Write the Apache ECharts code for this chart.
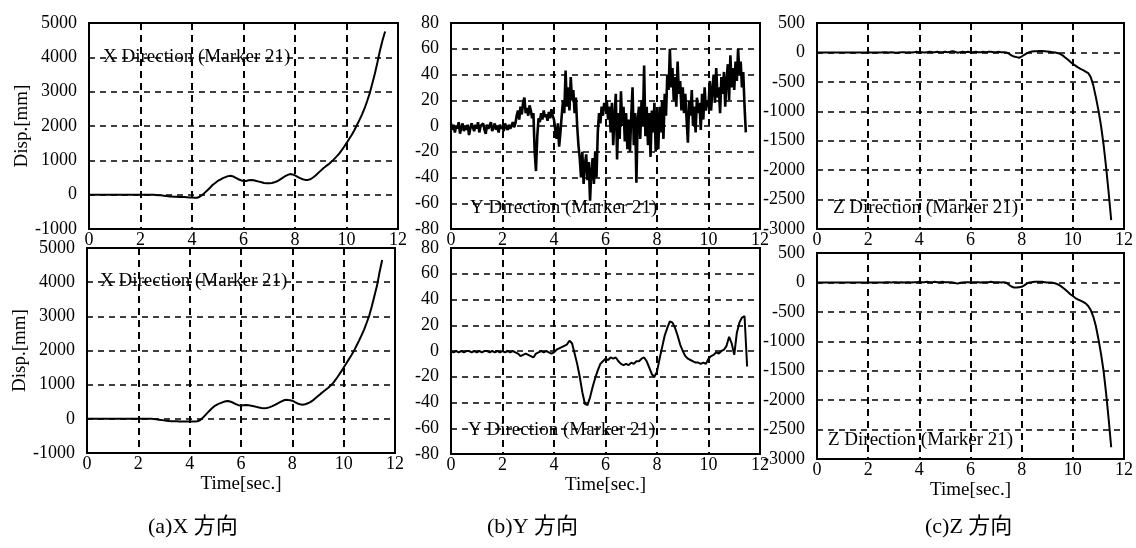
<!DOCTYPE html>
<html><head><meta charset="utf-8">
<script src="https://cdn.jsdelivr.net/npm/echarts@6/dist/echarts.min.js"></script>
<style>html,body{margin:0;padding:0;background:#fff}#c{width:1136px;height:548px}</style>
</head><body><div id="c"></div>
<script>
// ---- data ----
const stepSmooth = 0.1;   // t = 0.0 .. 11.5
const stepNoisy = 0.05;   // t = 0.00 .. 11.45

const xTopValues = [
  0,0,0,0,0,0,0,0,0,0, 0,0,0,0,0,0,0,0,0,0, 0,0,0,0,0,0,
  -10,-15,-20,-30,-40,-50,-55,-60,-60,-65,
  -70,-70,-75,-80,-85,-90,-90,-60,-10,60,
  130,200,280,340,400,440,480,510,540,550,
  530,490,450,420,400,400,420,430,420,400,
  380,360,340,330,330,340,360,390,430,480,
  530,570,600,590,560,520,480,450,430,430,
  450,500,560,630,700,770,830,880,950,1020,
  1100,1180,1280,1390,1500,1620,1740,1870,2020,2170,
  2330,2510,2720,2950,3230,3520,3850,4200,4500,4750
];
const xBottomValues = [
  0,0,0,0,0,0,0,0,0,0, 0,0,0,0,0,0,0,0,0,0, 0,0,0,0,0,0,
  -5,-15,-25,-35,-45,-55,-65,-70,-70,-72,
  -75,-75,-77,-78,-78,-78,-78,-70,-40,20,
  100,180,260,330,390,430,460,490,515,520,
  500,470,430,400,390,400,405,400,385,370,
  350,330,315,310,315,335,365,400,440,480,
  520,550,555,545,530,490,450,425,415,425,
  455,490,540,600,665,730,790,850,910,980,
  1060,1160,1270,1380,1500,1620,1740,1860,1990,2140,
  2290,2450,2620,2820,3030,3300,3600,3900,4300,4650
];
const yTopValues = [
  2,-3,1,-5,0,-2,3,-6,-1,2,-4,0,-3,1,-7,-2,2,-1,-4,1,
  -2,3,-5,0,-1,2,-3,-6,1,-2,0,3,-4,-1,2,-3,0,-5,1,-2,
  0,-4,2,-1,-3,1,-2,0,3,-1,2,8,12,5,15,9,18,22,10,14,
  8,16,12,6,10,-20,-35,-8,6,3,10,5,12,7,9,4,11,6,13,8,
  5,-3,-10,2,-16,-5,8,20,10,43,15,30,12,38,20,28,10,22,0,-15,
  -25,-40,-20,-45,-30,-22,-42,-28,-58,-35,-25,-45,-20,-40,-5,10,2,15,8,18,
  12,20,5,15,-5,18,-15,8,25,-26,10,-10,27,0,15,-12,10,-18,5,-20,
  8,30,-15,10,-44,5,15,-10,20,0,47,-8,15,-15,10,-24,12,-5,18,-20,
  10,-18,15,-5,20,-10,25,8,40,28,60,30,45,20,38,15,50,25,35,12,
  30,10,25,5,-13,20,8,28,0,15,-5,22,10,18,-3,25,5,30,12,20,
  15,35,12,28,40,18,45,22,30,10,38,25,42,15,35,48,20,55,30,45,
  28,50,35,60,40,50,30,42,15,-5
];
const yBottomValues = [
  0,-1,0,-1,0,-1,0,0,-1,0,
  -1,0,-1,0,0,-1,0,-1,0,-1,
  0,-1,0,-1,0,-1,
  -2,-4,-3,-2,-3,-4,-5,-2,-1,0,
  -1,0,-1,-2,-1,1,2,3,4,5,
  8,6,-2,-10,-20,-32,-41,-42,-36,-28,
  -21,-15,-10,-8,-6,-7,-5,-6,-5,-8,
  -10,-11,-10,-11,-9,-10,-8,-8,-6,-5,
  -8,-13,-18,-20,-16,-6,3,12,18,23,
  22,18,12,5,0,-4,-6,-7,-8,-9,
  -9,-10,-9,-10,-6,-4,-3,-1,-2,0,
  1,4,11,6,-3,14,22,26,27,-12
];
const zTopValues = [
  0,0,0,0,0,0,0,0,0,0, 0,0,0,0,0,0,0,0,0,0, 0,0,0,0,0,0,
  5,5,0,5,0,-5,0,5,5,0,
  5,0,5,10,5,5,0,5,10,5,
  5,10,5,5,10,5,10,20,10,-5,
  5,10,5,10,5,5,10,5,5,10,
  5,10,10,5,5,10,5,5,0,-20,
  -50,-70,-80,-90,-70,-40,-15,5,15,20,
  20,25,25,20,15,10,5,0,-10,-25,
  -50,-85,-120,-160,-195,-225,-255,-280,-300,-325,
  -350,-420,-560,-760,-980,-1240,-1560,-1950,-2380,-2850
];
const zBottomValues = [
  0,0,0,0,0,0,0,0,0,0, 0,0,0,0,0,0,0,0,0,0, 0,0,0,0,0,0,
  0,5,5,0,5,5,0,5,0,5,
  5,0,5,5,10,5,5,10,5,5,
  10,5,5,10,5,5,5,0,-10,-20,
  -5,0,5,5,0,5,5,5,0,5,
  5,5,10,5,5,5,0,5,-5,-40,
  -70,-85,-85,-80,-75,-50,-20,0,5,10,
  10,10,10,5,0,0,-5,-15,-30,-55,
  -85,-120,-160,-200,-230,-265,-290,-310,-330,-355,
  -400,-470,-580,-740,-960,-1210,-1500,-1880,-2320,-2800
];

// axis ranges [min, max, interval]
const timeRange = [0, 12, 2];
const xDispRange = [-1000, 5000, 1000];
const yDispRange = [-80, 80, 20];
const zDispRange = [-3000, 500, 500];

const panelTitles = ['X Direction (Marker 21)', 'Y Direction (Marker 21)', 'Z Direction (Marker 21)'];
const captions = ['(a)X 方向', '(b)Y 方向', '(c)Z 方向'];
const yAxisName = 'Disp.[mm]';
const xAxisName = 'Time[sec.]';

// ---- chart ----
function pts(step, vals) { return vals.map((v, i) => [+(i * step).toFixed(2), v]); }

const FONT = "'Liberation Serif', 'Times New Roman', serif";
const grids = [
  {left: 89, top: 23, width: 309, height: 206},
  {left: 451, top: 23, width: 309, height: 206},
  {left: 817, top: 23, width: 307, height: 206},
  {left: 87, top: 248, width: 308, height: 205},
  {left: 451, top: 248, width: 309, height: 206},
  {left: 817, top: 253, width: 307, height: 206}
].map(g => Object.assign(g, {show: true, borderColor: '#000', borderWidth: 2, backgroundColor: 'transparent', containLabel: false}));

const ranges = [xDispRange, yDispRange, zDispRange, xDispRange, yDispRange, zDispRange];
const seriesData = [
  pts(stepSmooth, xTopValues), pts(stepNoisy, yTopValues), pts(stepSmooth, zTopValues),
  pts(stepSmooth, xBottomValues), pts(stepSmooth, yBottomValues), pts(stepSmooth, zBottomValues)
];
const plain = v => String(v);

const xAxes = grids.map((g, i) => ({
  type: 'value', gridIndex: i, min: timeRange[0], max: timeRange[1], interval: timeRange[2],
  axisLine: {show: false}, axisTick: {show: false},
  axisLabel: {color: '#000', fontFamily: FONT, fontSize: 18, margin: 2, formatter: plain, showMinLabel: true, showMaxLabel: true},
  splitLine: {show: true, lineStyle: {color: '#000', width: 2, type: [7, 5]}},
  name: i >= 3 ? xAxisName : '', nameLocation: 'middle', nameGap: 22,
  nameTextStyle: {color: '#000', fontFamily: FONT, fontSize: 19}
}));
const yAxes = grids.map((g, i) => ({
  type: 'value', gridIndex: i, min: ranges[i][0], max: ranges[i][1], interval: ranges[i][2],
  axisLine: {show: false}, axisTick: {show: false},
  axisLabel: {color: '#000', fontFamily: FONT, fontSize: 18, margin: 12, formatter: plain, showMinLabel: true, showMaxLabel: true},
  splitLine: {show: true, lineStyle: {color: '#000', width: 1.5, type: [6, 5]}},
  name: (i === 0 || i === 3) ? yAxisName : '', nameLocation: 'middle', nameGap: 54,
  nameTextStyle: {color: '#000', fontFamily: FONT, fontSize: 19}
}));
const series = seriesData.map((d, i) => ({
  type: 'line', xAxisIndex: i, yAxisIndex: i, data: d, showSymbol: false, symbol: 'none',
  lineStyle: {color: '#000', width: i === 1 ? 2.6 : 2}, silent: true, z: 3
}));

const titleStyle = {color: '#000', fontFamily: FONT, fontSize: 19, fontWeight: 'normal'};
const titles = [
  {text: panelTitles[0], left: 103, top: 48},
  {text: panelTitles[1], left: 470, top: 199},
  {text: panelTitles[2], left: 833, top: 199},
  {text: panelTitles[0], left: 100, top: 272},
  {text: panelTitles[1], left: 468, top: 421},
  {text: panelTitles[2], left: 828, top: 431}
].map(t => Object.assign(t, {padding: 0, textStyle: titleStyle}));
const capStyle = {color: '#000', fontFamily: "'Liberation Serif', 'Noto Sans CJK JP', serif", fontSize: 22, fontWeight: 'normal'};
[148, 487, 925].forEach((x, i) => titles.push({text: captions[i], left: x, top: 516, padding: 0, textStyle: capStyle}));

const chart = echarts.init(document.getElementById('c'), null, {renderer: 'canvas'});
chart.setOption({
  animation: false,
  backgroundColor: '#fff',
  title: titles,
  grid: grids,
  xAxis: xAxes,
  yAxis: yAxes,
  series: series
});
</script></body></html>
